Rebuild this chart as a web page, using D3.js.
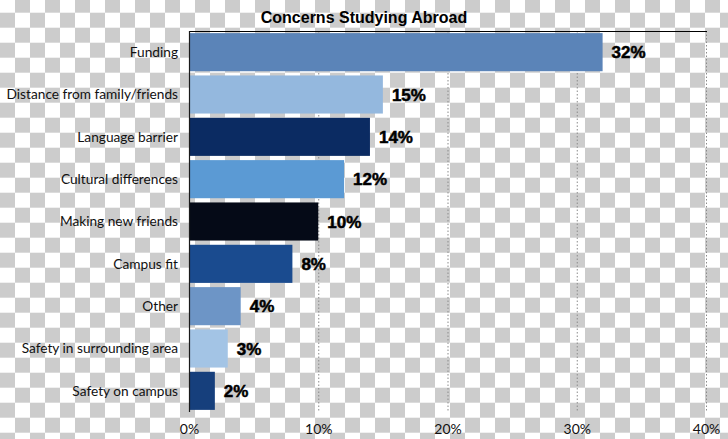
<!DOCTYPE html>
<html>
<head>
<meta charset="utf-8">
<script src="https://cdn.jsdelivr.net/npm/d3@7/dist/d3.min.js"></script>
<style>
html,body{margin:0;padding:0;background:#fff;}
svg{display:block;}
</style>
</head>
<body>
<svg id="chart" width="728" height="439"></svg>
<script>
const categories = ["Funding","Distance from family/friends","Language barrier","Cultural differences","Making new friends","Campus fit","Other","Safety in surrounding area","Safety on campus"];
const values = [32,15,14,12,10,8,4,3,2];
const barColors = ["#5b84b8","#94b8de","#0b2b62","#5b9ad4","#050a17","#1a4b8f","#6d95c6","#a3c4e5","#163f7c"];
const tickValues = [0,10,20,30,40];
const tickLabels = ["0%","10%","20%","30%","40%"];
const title = "Concerns Studying Abroad";

const svg = d3.select("#chart");
const W = 728, H = 439;

// transparency checkerboard background
const defs = svg.append("defs");
const pat = defs.append("pattern").attr("id","checker").attr("patternUnits","userSpaceOnUse")
  .attr("x",0).attr("y",-2.3).attr("width",30).attr("height",30);
pat.append("rect").attr("width",30).attr("height",30).attr("fill","#ffffff");
pat.append("rect").attr("x",15).attr("y",0).attr("width",15).attr("height",15).attr("fill","#cccccc");
pat.append("rect").attr("x",0).attr("y",15).attr("width",15).attr("height",15).attr("fill","#cccccc");
svg.append("rect").attr("width",W).attr("height",H).attr("fill","url(#checker)");

const x = d3.scaleLinear().domain([0,40]).range([189,706]);
const y = d3.scaleBand().domain(categories).range([31,412]).paddingInner(0.1).paddingOuter(0.05);

// gridlines
svg.append("g").selectAll("line").data(tickValues.slice(1)).join("line")
  .attr("x1",d=>x(d)+0.5).attr("x2",d=>x(d)+0.5)
  .attr("y1",31).attr("y2",411)
  .attr("stroke","#8a8a8a").attr("stroke-width",1).attr("stroke-dasharray","1.5,2");

// bars
svg.append("g").selectAll("rect").data(categories).join("rect")
  .attr("x",x(0)+1)
  .attr("y",d=>y(d))
  .attr("width",(d,i)=>x(values[i])-x(0)-1)
  .attr("height",y.bandwidth())
  .attr("fill",(d,i)=>barColors[i]);

// top line
svg.append("line").attr("x1",x(0)).attr("x2",x(40)+1).attr("y1",31.5).attr("y2",31.5)
  .attr("stroke","#000").attr("stroke-width",1);
// left axis line
svg.append("line").attr("x1",x(0)+0.5).attr("x2",x(0)+0.5).attr("y1",31).attr("y2",412)
  .attr("stroke","#1a1a1a").attr("stroke-width",1.2);

// value labels
svg.append("g").selectAll("text").data(categories).join("text")
  .attr("x",(d,i)=>x(values[i])+9)
  .attr("y",d=>y(d)+y.bandwidth()/2)
  .attr("dy","0.36em")
  .attr("font-family","'Liberation Sans', Arial, sans-serif")
  .attr("font-weight","bold")
  .attr("font-size",17)
  .attr("fill","#000")
  .attr("stroke","#000").attr("stroke-width",0.5)
  .text((d,i)=>values[i]+"%");

// category labels
svg.append("g").selectAll("text").data(categories).join("text")
  .attr("x",178)
  .attr("y",d=>y(d)+y.bandwidth()/2)
  .attr("dy","0.36em")
  .attr("text-anchor","end")
  .attr("font-family","Lato, 'Open Sans', sans-serif")
  .attr("font-size",13.7)
  .attr("fill","#111")
  .text(d=>d);

// x tick labels
const xAxis = d3.axisBottom(x).tickValues(tickValues).tickFormat((d,i)=>tickLabels[i]).tickSize(0).tickPadding(0);
const gx = svg.append("g").attr("transform","translate(0,424)").call(xAxis);
gx.select(".domain").remove();
gx.selectAll("text").attr("font-family","Lato, 'Open Sans', sans-serif").attr("font-size",14).attr("fill","#111");

// title
svg.append("text").attr("x",364).attr("y",23).attr("text-anchor","middle")
  .attr("font-family","'Liberation Sans', Arial, sans-serif").attr("font-weight","bold")
  .attr("font-size",16).attr("fill","#000").text(title);
</script>
</body>
</html>
